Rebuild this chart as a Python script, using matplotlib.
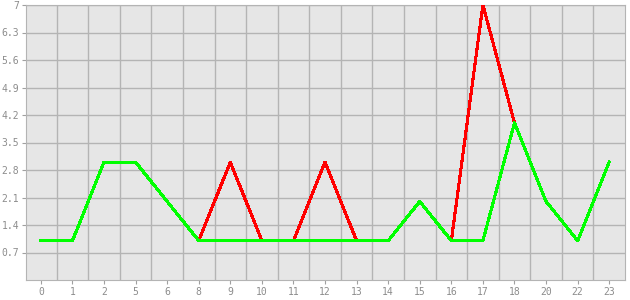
import matplotlib
matplotlib.use("Agg")
import matplotlib.pyplot as plt
import numpy as np

hours = ["0", "1", "2", "5", "6", "8", "9", "10", "11", "12", "13", "14", "15", "16", "17", "18", "20", "22", "23"]
red_vals = [1, 1, 3, 3, 2, 1, 3, 1, 1, 3, 1, 1, 2, 1, 7, 4, 2, 1, 3]
green_vals = [1, 1, 3, 3, 2, 1, 1, 1, 1, 1, 1, 1, 2, 1, 1, 4, 2, 1, 3]
y_ticks = [0.7, 1.4, 2.1, 2.8, 3.5, 4.2, 4.9, 5.6, 6.3, 7]
y_labels = ["0.7", "1.4", "2.1", "2.8", "3.5", "4.2", "4.9", "5.6", "6.3", "7"]

plt.rcParams["font.family"] = "DejaVu Sans Mono"

fig = plt.figure(figsize=(6.3, 3), dpi=100)
ax = fig.add_axes([26/630, 20/300, 599/630, 275/300])
ax.set_facecolor("#e6e6e6")

x = np.arange(len(hours))
ax.plot(x, red_vals, color="#ff0000", lw=1.5, antialiased=False, zorder=3)
ax.plot(x, green_vals, color="#00ff00", lw=1.5, antialiased=False, zorder=4)

ax.set_xlim(-0.47, len(hours) - 0.5)
ax.set_ylim(0, 7)
ax.set_xticks(x)
ax.set_xticklabels(hours)
ax.set_xticks(x[:-1] + 0.5, minor=True)
ax.set_yticks(y_ticks)
ax.set_yticklabels(y_labels)

ax.grid(True, which="minor", axis="x", color="#b4b4b4", lw=1)
ax.grid(True, which="major", axis="y", color="#b4b4b4", lw=1)
ax.tick_params(axis="x", which="minor", length=0)
ax.tick_params(which="major", length=3, pad=2, color="#a0a0a0", labelcolor="#8c8c8c", labelsize=7)
ax.set_axisbelow(True)
for s in ax.spines.values():
    s.set_color("#b4b4b4")

fig.savefig("out.png")
